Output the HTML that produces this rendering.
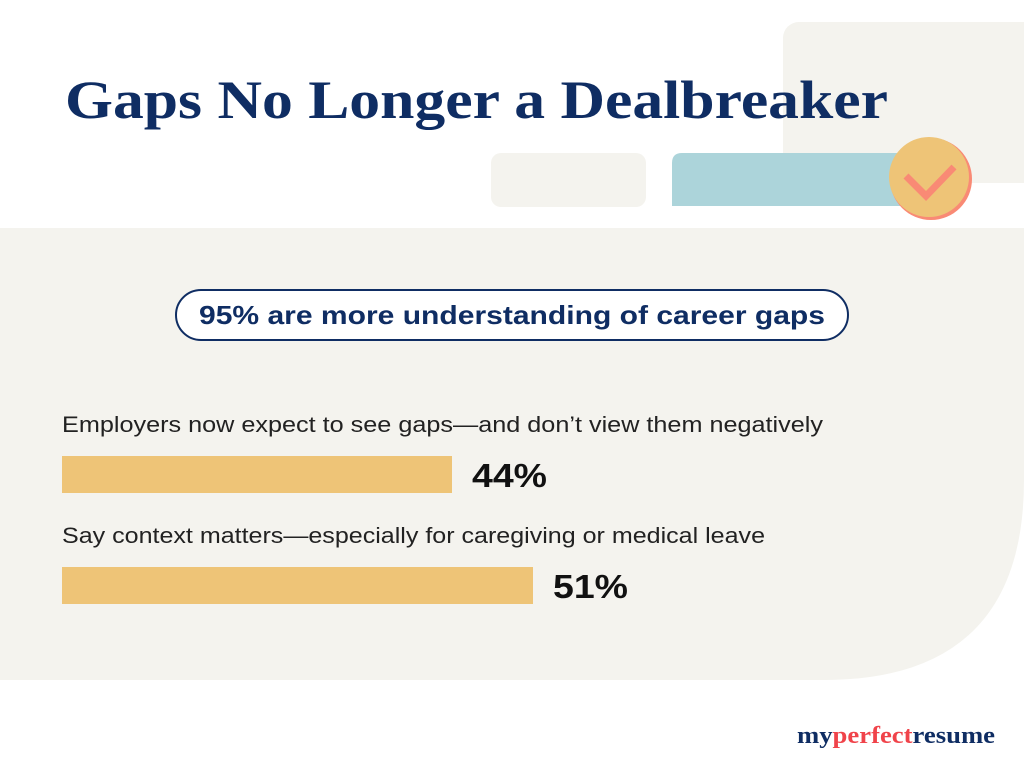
<!DOCTYPE html>
<html><head><meta charset="utf-8"><style>html,body{margin:0;padding:0;background:#fff}svg{display:block}</style></head>
<body>
<svg width="1024" height="776" viewBox="0 0 1024 776" xmlns="http://www.w3.org/2000/svg">
<rect width="1024" height="776" fill="#ffffff"/>
<rect x="783" y="22" width="260" height="161" rx="16" fill="#f4f3ee"/>
<path d="M0 228 H1024 V480 Q1024 680 824 680 H0 Z" fill="#f4f3ee"/>
<rect x="491" y="153" width="155" height="54" rx="10" fill="#f4f3ee"/>
<path d="M672 206 V163 Q672 153 682 153 H930 V206 Z" fill="#acd4da"/>
<circle cx="931" cy="179" r="41" fill="#f98a75"/>
<circle cx="929" cy="177" r="40" fill="#eec477"/>
<polyline points="906,176 926,196 954,167" fill="none" stroke="#f98a75" stroke-width="7"/>
<text x="65" y="118" font-family="Liberation Serif, serif" font-weight="bold" font-size="54" fill="#0f2d63" textLength="823" lengthAdjust="spacingAndGlyphs">Gaps No Longer a Dealbreaker</text>
<rect x="176" y="290" width="672" height="50" rx="25" fill="#fff" stroke="#0f2d63" stroke-width="2"/>
<text x="512" y="324" text-anchor="middle" font-family="Liberation Sans, sans-serif" font-weight="bold" font-size="26" fill="#0f2d63" textLength="626" lengthAdjust="spacingAndGlyphs">95% are more understanding of career gaps</text>
<text x="62" y="432" font-family="Liberation Sans, sans-serif" font-size="22" fill="#222" textLength="761" lengthAdjust="spacingAndGlyphs">Employers now expect to see gaps—and don’t view them negatively</text>
<rect x="62" y="456" width="390" height="37" fill="#eec477"/>
<text x="472" y="487" font-family="Liberation Sans, sans-serif" font-weight="bold" font-size="33" fill="#111" textLength="75" lengthAdjust="spacingAndGlyphs">44%</text>
<text x="62" y="543" font-family="Liberation Sans, sans-serif" font-size="22" fill="#222" textLength="703" lengthAdjust="spacingAndGlyphs">Say context matters—especially for caregiving or medical leave</text>
<rect x="62" y="567" width="471" height="37" fill="#eec477"/>
<text x="553" y="598" font-family="Liberation Sans, sans-serif" font-weight="bold" font-size="33" fill="#111" textLength="75" lengthAdjust="spacingAndGlyphs">51%</text>
<text x="797" y="743" font-family="Liberation Serif, serif" font-weight="bold" font-size="24" textLength="198" lengthAdjust="spacingAndGlyphs"><tspan fill="#0f2d63">my</tspan><tspan fill="#f0434a">perfect</tspan><tspan fill="#0f2d63">resume</tspan></text>
</svg>
</body></html>
